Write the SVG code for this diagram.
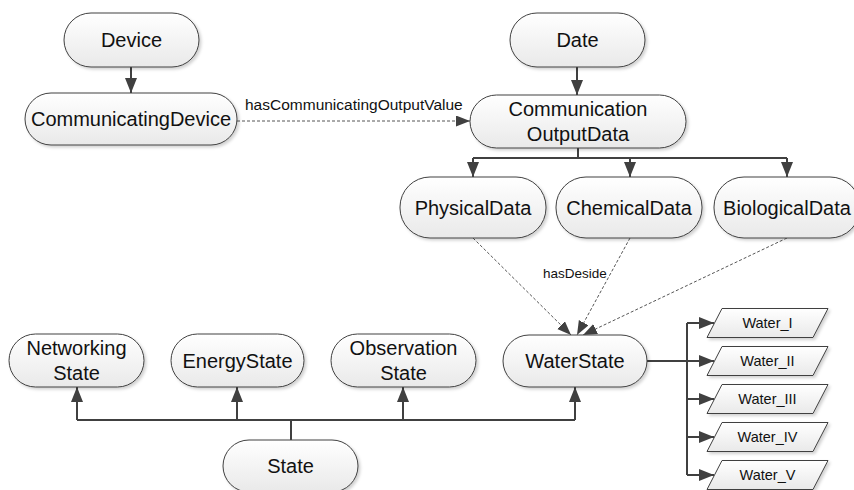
<svg xmlns="http://www.w3.org/2000/svg" width="854" height="490" viewBox="0 0 854 490">
<defs>
<linearGradient id="g" x1="0" y1="0" x2="0" y2="1">
<stop offset="0" stop-color="#ffffff"/>
<stop offset="1" stop-color="#e9e9e9"/>
</linearGradient>
<filter id="sh" x="-10%" y="-10%" width="130%" height="140%">
<feDropShadow dx="2" dy="2" stdDeviation="1.5" flood-color="#000" flood-opacity="0.18"/>
</filter>
<marker id="ah" markerUnits="userSpaceOnUse" markerWidth="16" markerHeight="12" refX="15" refY="6" orient="auto">
<path d="M0,0 L15,6 L0,12 z" fill="#404040"/>
</marker>
<marker id="ahd" markerUnits="userSpaceOnUse" markerWidth="16" markerHeight="12" refX="14" refY="5.5" orient="auto">
<path d="M0,0 L14,5.5 L0,11 z" fill="#404040"/>
</marker>
</defs>
<style>
.n{fill:url(#g);stroke:#404040;stroke-width:1;filter:url(#sh)}
.t{font-family:"Liberation Sans",Arial,sans-serif;font-size:20px;fill:#111;text-anchor:middle;dominant-baseline:central}
.w{font-family:"Liberation Sans",Arial,sans-serif;font-size:14.5px;fill:#111;text-anchor:middle;dominant-baseline:central}
.l{font-family:"Liberation Sans",Arial,sans-serif;fill:#111;dominant-baseline:central}
.c{fill:none;stroke:#404040;stroke-width:2}
.d{fill:none;stroke:#555;stroke-width:1;stroke-dasharray:3,2}
</style>
<g id="connectors">
<path class="c" d="M131,67 V93" marker-end="url(#ah)"/>
<path class="c" d="M577,67 V95" marker-end="url(#ah)"/>
<path class="d" d="M237,121 H470" marker-end="url(#ahd)"/>
<path class="c" d="M578,148 V158 M473,158 H787"/>
<path class="c" d="M473,158 V177" marker-end="url(#ah)"/>
<path class="c" d="M630,158 V177" marker-end="url(#ah)"/>
<path class="c" d="M787,158 V177" marker-end="url(#ah)"/>
<path class="d" d="M473,238 L571,335" marker-end="url(#ahd)"/>
<path class="d" d="M630,238 L577,335" marker-end="url(#ahd)"/>
<path class="d" d="M787,238 L583,335" marker-end="url(#ahd)"/>
<path class="c" d="M291,440 V420 M77,420 H575"/>
<path class="c" d="M77,420 V387" marker-end="url(#ah)"/>
<path class="c" d="M237,420 V387" marker-end="url(#ah)"/>
<path class="c" d="M403,420 V387" marker-end="url(#ah)"/>
<path class="c" d="M575,420 V387" marker-end="url(#ah)"/>
<path class="c" d="M647,361 H687 M687,323 V475"/>
<path class="c" d="M687,323 H714" marker-end="url(#ah)"/>
<path class="c" d="M687,361 H714" marker-end="url(#ah)"/>
<path class="c" d="M687,399 H714" marker-end="url(#ah)"/>
<path class="c" d="M687,437 H714" marker-end="url(#ah)"/>
<path class="c" d="M687,475 H714" marker-end="url(#ah)"/>
<text class="l" x="245" y="104" font-size="15.5">hasCommunicatingOutputValue</text>
<text class="l" x="543" y="273" font-size="13.5">hasDeside</text>
</g>
<g id="Device"><rect class="n" x="64" y="13" width="135" height="54" rx="27"/><text class="t" x="131.5" y="40">Device</text></g>
<g id="Date"><rect class="n" x="510" y="13" width="135" height="54" rx="27"/><text class="t" x="577.5" y="40">Date</text></g>
<g id="CommunicatingDevice"><rect class="n" x="25" y="93" width="212" height="52" rx="26"/><text class="t" x="131" y="119">CommunicatingDevice</text></g>
<g id="CommunicationOutputData"><rect class="n" x="470" y="95" width="216" height="53" rx="26.5"/><text class="t" x="578" y="109">Communication</text><text class="t" x="578" y="134">OutputData</text></g>
<g id="PhysicalData"><rect class="n" x="400" y="177" width="146" height="61" rx="30"/><text class="t" x="473" y="207.5">PhysicalData</text></g>
<g id="ChemicalData"><rect class="n" x="556" y="177" width="146" height="61" rx="30"/><text class="t" x="629" y="207.5">ChemicalData</text></g>
<g id="BiologicalData"><rect class="n" x="714" y="177" width="146" height="61" rx="30"/><text class="t" x="787" y="207.5">BiologicalData</text></g>
<g id="NetworkingState"><rect class="n" x="9" y="334" width="135" height="53" rx="26.5"/><text class="t" x="76.5" y="348">Networking</text><text class="t" x="76.5" y="373">State</text></g>
<g id="EnergyState"><rect class="n" x="171" y="334" width="133" height="53" rx="26.5"/><text class="t" x="237.5" y="360.5">EnergyState</text></g>
<g id="ObservationState"><rect class="n" x="331" y="334" width="145" height="53" rx="26.5"/><text class="t" x="403.5" y="348">Observation</text><text class="t" x="403.5" y="373">State</text></g>
<g id="WaterState"><rect class="n" x="503" y="335" width="144" height="52" rx="26"/><text class="t" x="575" y="361">WaterState</text></g>
<g id="State"><rect class="n" x="223" y="440" width="135" height="52" rx="26"/><text class="t" x="290.5" y="466">State</text></g>
<g id="Water_I"><polygon class="n" points="722,308.5 828,308.5 813,337.5 707,337.5"/><text class="w" x="767.5" y="323">Water_I</text></g>
<g id="Water_II"><polygon class="n" points="722,346.5 828,346.5 813,375.5 707,375.5"/><text class="w" x="767.5" y="361">Water_II</text></g>
<g id="Water_III"><polygon class="n" points="722,384.5 828,384.5 813,413.5 707,413.5"/><text class="w" x="767.5" y="399">Water_III</text></g>
<g id="Water_IV"><polygon class="n" points="722,422.5 828,422.5 813,451.5 707,451.5"/><text class="w" x="767.5" y="437">Water_IV</text></g>
<g id="Water_V"><polygon class="n" points="722,460.5 828,460.5 813,489.5 707,489.5"/><text class="w" x="767.5" y="475">Water_V</text></g>
</svg>
